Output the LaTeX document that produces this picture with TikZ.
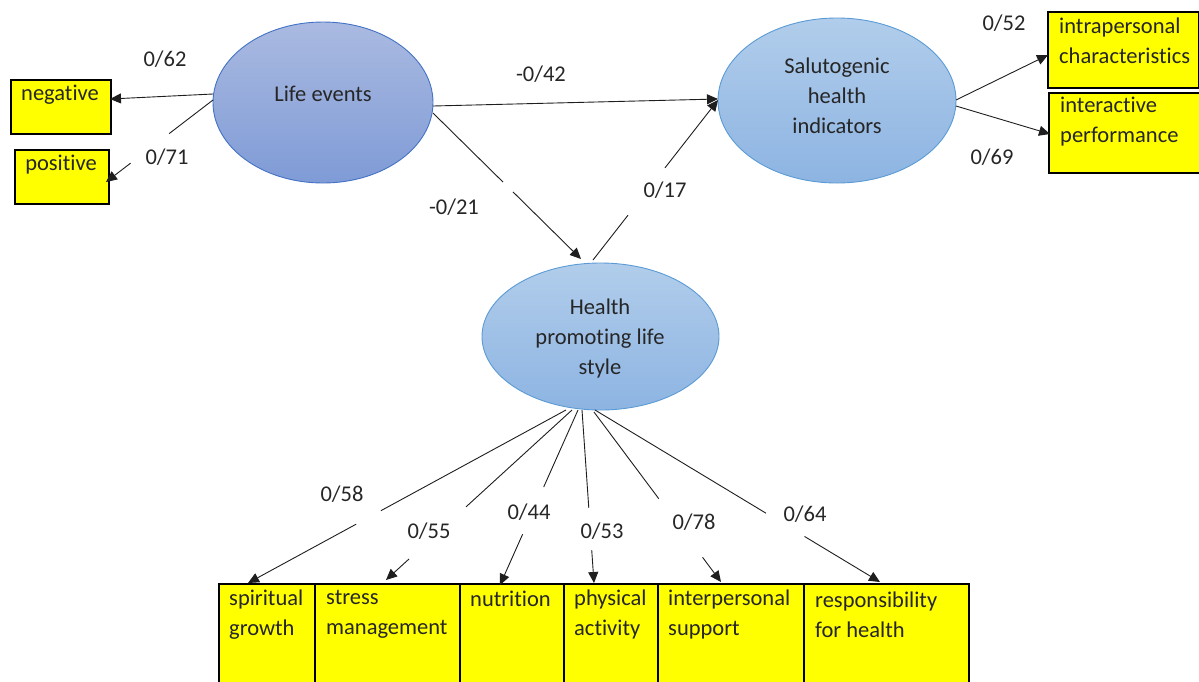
\documentclass[tikz,border=0pt]{standalone}
\usepackage{fontspec}
\setmainfont{Carlito}[RawFeature=-liga]
\usetikzlibrary{shapes.geometric,arrows.meta,calc}
\definecolor{txtcol}{HTML}{262626}
\definecolor{linecol}{HTML}{1E1E1E}
\definecolor{leTop}{HTML}{AABAE1}
\definecolor{leBot}{HTML}{7F9BD6}
\definecolor{leBord}{HTML}{4472C4}
\definecolor{sTop}{HTML}{B1CDEB}
\definecolor{sBot}{HTML}{8DB4E2}
\definecolor{sBord}{HTML}{5B9BD5}
\definecolor{boxyel}{HTML}{FFFF00}
\newcommand\gapline[4]{%
  \draw[conn] (#1) -- ($(#1)!#3!(#2)$);
  \draw[arr] ($(#1)!#4!(#2)$) -- (#2);}
\begin{document}
\begin{tikzpicture}[x=1pt,y=-1pt,
  txt/.style={font=\fontsize{22.5}{30}\selectfont, text=txtcol, inner sep=0pt},
  lbl/.style={txt},
  latA/.style={ellipse, draw=leBord, line width=0.9pt, inner sep=0pt,
    shading=axis, top color=leTop, bottom color=leBot},
  latB/.style={ellipse, draw=sBord, line width=0.9pt, inner sep=0pt,
    shading=axis, top color=sTop, bottom color=sBot},
  box/.style={draw=black, line width=2pt, fill=boxyel, inner sep=0pt,
    anchor=north west, rectangle},
  conn/.style={line width=0.9pt, draw=linecol},
  arr/.style={conn, -{Triangle[length=11pt,width=10pt]}},
]
\useasboundingbox (0,0) rectangle (1199,681);
\clip (0,0) rectangle (1199,681);

% latent variables
\node[latA, minimum width=220pt, minimum height=161pt] (LE) at (323,102.5) {};
\node[txt] (LEt) at (323,94) {Life events};
\node[latB, minimum width=238pt, minimum height=165pt] (SH) at (837,100.5) {};
\node[txt, align=center] (SHt) at (837,96) {Salutogenic\\health\\indicators};
\node[latB, minimum width=237pt, minimum height=147pt] (HP) at (600.5,336.5) {};
\node[txt, align=center] (HPt) at (600,338) {Health\\promoting life\\style};

% indicator boxes, top
\node[box, minimum width=100pt, minimum height=54pt] (neg) at (10,79) {};
\node[txt] (negt) at (60,95) {negative};
\node[box, minimum width=94pt, minimum height=54pt] (pos) at (14,149) {};
\node[txt] (post) at (61,165) {positive};
\node[box, minimum width=151pt, minimum height=76pt] (intra) at (1047,11) {};
\node[txt, align=left, anchor=west] (intrat) at (1059,40.5) {intrapersonal\\characteristics};
\node[box, minimum width=151pt, minimum height=80pt] (inter) at (1048,92) {};
\node[txt, align=left, anchor=west] (intert) at (1060,122) {interactive\\performance};

% indicator boxes, bottom
\node[box, minimum width=96pt, minimum height=110pt] (sg) at (218,583) {};
\node[box, minimum width=145pt, minimum height=110pt] (sm) at (314,583) {};
\node[box, minimum width=104pt, minimum height=110pt] (nu) at (459,583) {};
\node[box, minimum width=94pt, minimum height=110pt] (pa) at (563,583) {};
\node[box, minimum width=146pt, minimum height=110pt] (is) at (657,583) {};
\node[box, minimum width=165pt, minimum height=110pt] (rh) at (803,583) {};
\node[txt, align=left, anchor=west] (sgt) at (229,614.5) {spiritual\\growth};
\node[txt, align=left, anchor=west] (smt) at (326,614.5) {stress\\management};
\node[txt, anchor=west] (nut) at (470,599) {nutrition};
\node[txt, align=left, anchor=west] (pat) at (574,614.5) {physical\\activity};
\node[txt, align=left, anchor=west] (ist) at (668,614.5) {interpersonal\\support};
\node[txt, align=left, anchor=west] (rht) at (815,614.5) {responsibility\\for health};

% connector end points
\coordinate (a1s) at (213,94);   \coordinate (a1e) at (110,99);
\coordinate (a2s) at (213,100);  \coordinate (a2e) at (106,182);
\coordinate (a3s) at (433,106);  \coordinate (a3e) at (718,99);
\coordinate (a4s) at (433,113);  \coordinate (a4e) at (581,259);
\coordinate (a5s) at (593,260);  \coordinate (a5e) at (718,100);
\coordinate (a6s) at (956,100);  \coordinate (a6e) at (1048,55);
\coordinate (a7s) at (956,106);  \coordinate (a7e) at (1050,134);
\coordinate (b1s) at (566,410);  \coordinate (b1e) at (248,583);
\coordinate (b2s) at (572,410);  \coordinate (b2e) at (386,580);
\coordinate (b3s) at (578,410);  \coordinate (b3e) at (500,585);
\coordinate (b4s) at (582,410);  \coordinate (b4e) at (594,583);
\coordinate (b5s) at (594,412);  \coordinate (b5e) at (721,582);
\coordinate (b6s) at (595,410);  \coordinate (b6e) at (880,582);

% connectors
\draw[arr] (a1s) -- (a1e);
\gapline{a2s}{a2e}{0.41}{0.77}
\draw[arr] (a3s) -- (a3e);
\gapline{a4s}{a4e}{0.473}{0.54}
\gapline{a5s}{a5e}{0.28}{0.576}
\draw[arr] (a6s) -- (a6e);
\draw[arr] (a7s) -- (a7e);
\gapline{b1s}{b1e}{0.582}{0.66}
\gapline{b2s}{b2e}{0.57}{0.876}
\gapline{b3s}{b3e}{0.44}{0.71}
\gapline{b4s}{b4e}{0.566}{0.81}
\gapline{b5s}{b5e}{0.51}{0.855}
\gapline{b6s}{b6e}{0.60}{0.735}

% coefficient labels
\node[lbl] (l1) at (165,59) {0/62};
\node[lbl] (l2) at (167,157) {0/71};
\node[lbl] (l3) at (541,74) {-0/42};
\node[lbl] (l4) at (454,207) {-0/21};
\node[lbl] (l5) at (665,190) {0/17};
\node[lbl] (l6) at (1004,23) {0/52};
\node[lbl] (l7) at (992,157) {0/69};
\node[lbl] (l8) at (342,494) {0/58};
\node[lbl] (l9) at (429,531) {0/55};
\node[lbl] (l10) at (529,512) {0/44};
\node[lbl] (l11) at (602,531) {0/53};
\node[lbl] (l12) at (694,522) {0/78};
\node[lbl] (l13) at (805,514) {0/64};
\end{tikzpicture}
\end{document}
